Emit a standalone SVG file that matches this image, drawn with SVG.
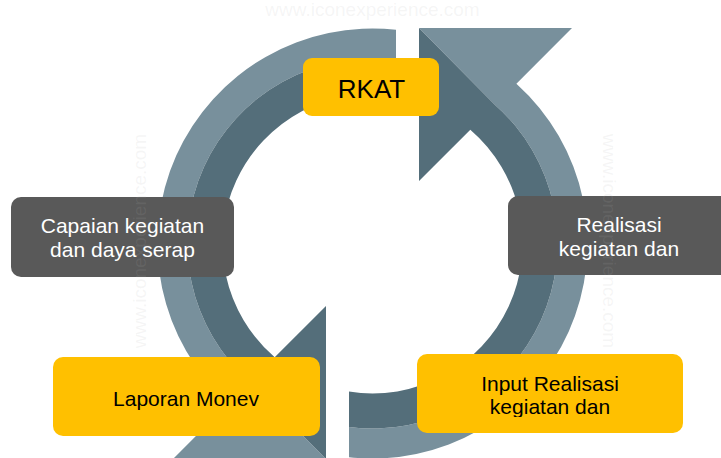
<svg xmlns="http://www.w3.org/2000/svg" width="721" height="458" viewBox="0 0 721 458">
  <defs>
    <style>
      .light { fill: #78909C; }
      .dark { fill: #546E7A; }
      .ybox { fill: #FFC000; }
      .gbox { fill: #595959; }
      .t { font-family: "Liberation Sans", Arial, sans-serif; font-size: 21px; text-anchor: middle; }
      .tb { fill: #000000; }
      .tw { fill: #FFFFFF; }
      .wm { font-family: "Liberation Sans", Arial, sans-serif; font-size: 19px; fill: #b0b0b0; fill-opacity: 0.13; text-anchor: middle; }
    </style>
    <g id="arrowShape">
      <path class="light" d="M419,28 L572,28 L516.4,83.7 A215,215 0 0 1 349,457.2 L349,427 A185,185 0 0 0 495.1,104.9 Z"/>
      <path class="dark" d="M419,28 L495.1,104.9 A185,185 0 0 1 349,427 L349,391.6 A150,150 0 0 0 470.3,129.7 L419,181 Z"/>
    </g>
    <clipPath id="clipInput">
      <rect x="417" y="354" width="266" height="63"/>
    </clipPath>
  </defs>
  <rect width="721" height="458" fill="#FFFFFF"/>

  <g id="connectors">
    <use href="#arrowShape"/>
    <use href="#arrowShape" transform="rotate(180 372.5 243.5)"/>
  </g>

  <g id="node-rkat">
    <rect class="ybox" x="303" y="58" width="136" height="58" rx="9"/>
    <text class="t tb" x="371.5" y="98" style="font-size:26px">RKAT</text>
  </g>

  <g id="node-realisasi">
    <rect class="gbox" x="508" y="196" width="224" height="79" rx="10"/>
    <text class="t tw" x="619" y="232">Realisasi</text>
    <text class="t tw" x="619" y="256">kegiatan dan</text>
  </g>

  <g id="node-input">
    <rect class="ybox" x="417" y="354" width="266" height="79" rx="10"/>
    <g clip-path="url(#clipInput)">
      <text class="t tb" x="550" y="391">Input Realisasi</text>
      <text class="t tb" x="550" y="414">kegiatan dan</text>
    </g>
  </g>

  <g id="node-laporan">
    <rect class="ybox" x="53" y="357" width="267" height="79" rx="10"/>
    <text class="t tb" x="186" y="405.5">Laporan Monev</text>
  </g>

  <g id="node-capaian">
    <rect class="gbox" x="11" y="197" width="223" height="80" rx="10"/>
    <text class="t tw" x="122.5" y="233">Capaian kegiatan</text>
    <text class="t tw" x="122.5" y="257">dan daya serap</text>
  </g>

  <g id="watermark">
    <text class="wm" x="372.5" y="16">www.iconexperience.com</text>
    <text class="wm" transform="translate(146 241) rotate(-90)">www.iconexperience.com</text>
    <text class="wm" transform="translate(603 241) rotate(90)">www.iconexperience.com</text>
  </g>
</svg>
